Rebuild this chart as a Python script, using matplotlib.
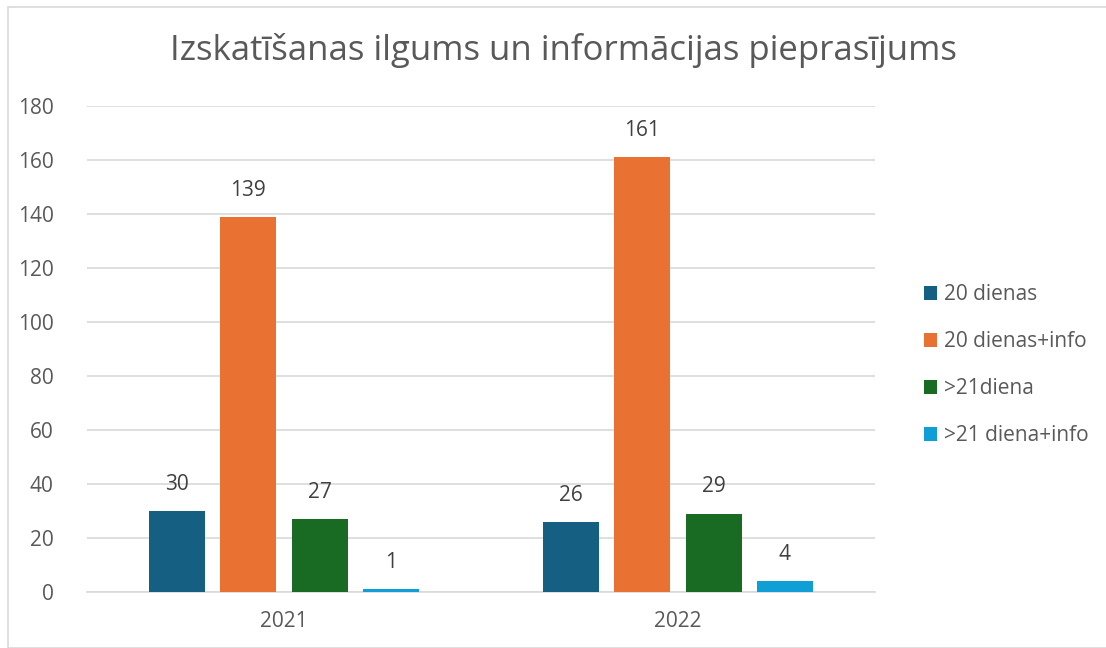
import matplotlib
matplotlib.use("Agg")
import matplotlib.pyplot as plt
from matplotlib.patches import Rectangle
import numpy as np

categories = ["2021", "2022"]
series_names = ["20 dienas", "20 dienas+info", ">21diena", ">21 diena+info"]
values = [
    [30, 26],
    [139, 161],
    [27, 29],
    [1, 4],
]
colors = ["#156082", "#E97132", "#196B24", "#0F9ED5"]
title = "Izskatīšanas ilgums un informācijas pieprasījums"

plt.rcParams['font.family'] = ['Open Sans', 'DejaVu Sans']
W, H = 1106, 648
fig = plt.figure(figsize=(W/100, H/100), dpi=100)
ax = fig.add_axes([87/W, 1-592/H, (875-87)/W, (592-106)/H])

x = np.arange(len(categories))
bw = 56/394
step = 71.3/394
for i, (name, vals, c) in enumerate(zip(series_names, values, colors)):
    pos = x + (i - 1.5) * step
    bars = ax.bar(pos, vals, width=bw, color=c, label=name, zorder=3)
    for b, v in zip(bars, vals):
        ax.text(b.get_x() + b.get_width()/2, v + 6, str(v), ha='center', va='bottom',
                fontsize=15, color='#404040')

ax.set_xlim(-0.5, 1.5)
ax.set_ylim(0, 180)
ax.set_yticks(range(0, 181, 20))
ax.yaxis.grid(True, color='#d9d9d9', linewidth=1.2, zorder=0)
ax.set_xticks(x)
ax.set_xticklabels(categories)
for s in ['top', 'right', 'left']:
    ax.spines[s].set_visible(False)
ax.spines['bottom'].set_color('#d9d9d9')
ax.spines['bottom'].set_linewidth(1.2)
ax.tick_params(axis='both', length=0, labelcolor='#595959')
ax.tick_params(axis='y', pad=24, labelsize=15)
ax.tick_params(axis='x', pad=14, labelsize=15)

fig.text(563/W, 1-50/H, title, ha='center', va='center', fontsize=25, color='#595959')

leg = ax.legend(loc='center left', bbox_to_anchor=(905/W, 1-365/H), bbox_transform=fig.transFigure,
                frameon=False, fontsize=15, labelcolor='#595959', handlelength=0.65, handleheight=0.65,
                handletextpad=0.3, labelspacing=1.25)

fig.patches.append(Rectangle((8/W, 0), 1.2, 1-7/H, transform=fig.transFigure, fill=False,
                             edgecolor='#d9d9d9', linewidth=1.2))

fig.savefig("out.png", dpi=100)
